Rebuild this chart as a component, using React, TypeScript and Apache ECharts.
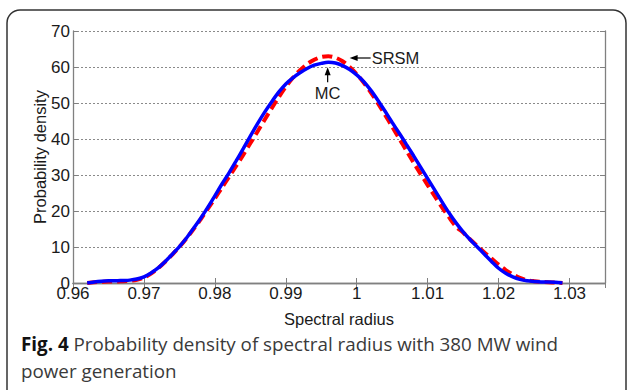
import React, { useEffect, useRef } from "react";
import * as echarts from "echarts";

const radius = [
  0.962, 0.963, 0.964, 0.965, 0.966, 0.967, 0.968, 0.969, 0.97, 0.971,
  0.972, 0.973, 0.974, 0.975, 0.976, 0.977, 0.978, 0.979, 0.98, 0.981,
  0.982, 0.983, 0.984, 0.985, 0.986, 0.987, 0.988, 0.989, 0.99, 0.991,
  0.992, 0.993, 0.994, 0.995, 0.996, 0.997, 0.998, 0.999, 1.0, 1.001,
  1.002, 1.003, 1.004, 1.005, 1.006, 1.007, 1.008, 1.009, 1.01, 1.011,
  1.012, 1.013, 1.014, 1.015, 1.016, 1.017, 1.018, 1.019, 1.02, 1.021,
  1.022, 1.023, 1.024, 1.025, 1.026, 1.027, 1.028, 1.029,
];

const mcDensity = [
  0.0, 0.3, 0.5, 0.6, 0.6, 0.7, 0.8, 1.1, 1.7, 2.8,
  4.2, 6.0, 8.0, 10.1, 12.5, 15.2, 18.0, 21.0, 24.2, 27.5,
  30.6, 33.9, 37.3, 40.8, 44.2, 47.4, 50.3, 53.0, 55.3, 57.0,
  58.4, 59.6, 60.5, 61.0, 61.3, 61.1, 60.4, 59.3, 57.8, 55.9,
  53.5, 50.7, 47.7, 44.6, 41.6, 38.5, 35.4, 32.2, 29.0, 25.8,
  22.6, 19.5, 16.7, 14.2, 12.0, 10.0, 8.0, 6.0, 4.1, 2.7,
  1.7, 1.0, 0.6, 0.4, 0.3, 0.3, 0.2, 0.0,
];

const srsmDensity = [
  0.0, 0.2, 0.3, 0.4, 0.4, 0.5, 0.6, 0.9, 1.5, 2.6,
  4.1, 5.9, 7.9, 10.0, 12.4, 15.0, 17.7, 20.6, 23.5, 26.5,
  29.5, 32.5, 35.6, 38.8, 42.0, 45.3, 48.5, 51.6, 54.5, 57.0,
  59.1, 60.8, 62.0, 62.8, 63.0, 62.6, 61.6, 60.0, 58.0, 55.6,
  52.9, 49.9, 46.7, 43.4, 40.1, 36.8, 33.5, 30.3, 27.2, 24.1,
  21.1, 18.3, 15.7, 14.0, 12.1, 10.3, 8.5, 6.8, 5.1, 3.6,
  2.4, 1.4, 0.8, 0.5, 0.3, 0.2, 0.1, 0.0,
];

const seriesNames = ["SRSM", "MC"];
// annotation arrow heads in data coordinates [radius, density]
const srsmArrowHead = [0.999, 62.5];
const mcArrowHead = [0.9959, 59.9];

const captionBold = "Fig. 4";
const captionLine1 = " Probability density of spectral radius with 380 MW wind";
const captionLine2 = "power generation";

const xAxisTitle = "Spectral radius";
const yAxisTitle = "Probability density";

const AXIS_FONT = "'Liberation Sans', Arial, sans-serif";
const AXIS_COLOR = "#808080";
const TEXT_COLOR = "#1a1a1a";

export default function App() {
  const ref = useRef<HTMLDivElement>(null);

  useEffect(() => {
    if (!ref.current) return;
    const chart = echarts.init(ref.current, null, { renderer: "svg" });

    const fmt = (v: number) => {
      if (Math.abs(v * 100 - Math.round(v * 100)) > 1e-6) return "";
      return String(parseFloat(v.toFixed(2)));
    };

    const baseGraphic: any[] = [
      {
        type: "rect",
        id: "frame",
        shape: { x: 7, y: 10, width: 619, height: 400, r: 13 },
        style: { fill: "none", stroke: "#333", lineWidth: 1.5 },
        silent: true,
      },
      {
        type: "text",
        id: "cap1",
        x: 21,
        y: 344,
        style: {
          text: "{b|" + captionBold + "}" + captionLine1,
          fontFamily: "'Open Sans', sans-serif",
          fontSize: 18.8,
          fill: "#3a3a3a",
          verticalAlign: "middle",
          rich: {
            b: {
              fontFamily: "'Open Sans', sans-serif",
              fontSize: 18.8,
              fontWeight: "bold",
              fill: "#111",
            },
          },
        },
      },
      {
        type: "text",
        id: "cap2",
        x: 21,
        y: 371,
        style: {
          text: captionLine2,
          fontFamily: "'Open Sans', sans-serif",
          fontSize: 18.8,
          fill: "#3a3a3a",
          verticalAlign: "middle",
        },
      },
    ];

    const option: any = {
      animation: false,
      backgroundColor: "#fff",
      grid: { left: 73, right: 22, top: 31, bottom: 107, containLabel: false },
      xAxis: [
        {
          type: "value",
          min: 0.96,
          max: 1.035,
          interval: 0.01,
          name: xAxisTitle,
          nameLocation: "middle",
          nameGap: 27,
          nameMoveOverlap: false,
          nameTextStyle: { fontFamily: AXIS_FONT, fontSize: 16.5, color: TEXT_COLOR },
          axisLine: { show: true, lineStyle: { color: AXIS_COLOR, width: 1.3 } },
          axisTick: { show: true, inside: true, length: 5, lineStyle: { color: AXIS_COLOR } },
          axisLabel: {
            margin: 2,
            formatter: fmt,
            fontFamily: AXIS_FONT,
            fontSize: 17,
            color: TEXT_COLOR,
          },
          splitLine: { show: false },
        },
        {
          type: "value",
          position: "top",
          min: 0.96,
          max: 1.035,
          interval: 0.01,
          axisLine: { show: true, lineStyle: { color: AXIS_COLOR, width: 1.3 } },
          axisTick: { show: true, inside: true, length: 5, lineStyle: { color: AXIS_COLOR } },
          axisLabel: { show: false },
          splitLine: { show: false },
        },
      ],
      yAxis: [
        {
          type: "value",
          min: 0,
          max: 70,
          interval: 10,
          name: yAxisTitle,
          nameLocation: "middle",
          nameGap: 25,
          nameMoveOverlap: false,
          nameTextStyle: { fontFamily: AXIS_FONT, fontSize: 16.5, color: TEXT_COLOR },
          axisLine: { show: true, lineStyle: { color: AXIS_COLOR, width: 1.3 } },
          axisTick: { show: true, inside: true, length: 5, lineStyle: { color: AXIS_COLOR } },
          axisLabel: { margin: 3, fontFamily: AXIS_FONT, fontSize: 17, color: TEXT_COLOR },
          splitLine: { show: true, lineStyle: { color: "#8a8a8a", width: 1, type: [2, 2] } },
        },
        {
          type: "value",
          position: "right",
          min: 0,
          max: 70,
          interval: 10,
          axisLine: { show: true, lineStyle: { color: AXIS_COLOR, width: 1.3 } },
          axisTick: { show: true, inside: true, length: 5, lineStyle: { color: AXIS_COLOR } },
          axisLabel: { show: false },
          splitLine: { show: false },
        },
      ],
      series: [
        {
          name: seriesNames[0],
          type: "line",
          data: radius.map((r, i) => [r, srsmDensity[i]]),
          showSymbol: false,
          smooth: 0.3,
          lineStyle: { color: "#ff0000", width: 4, type: [10, 5] },
          z: 2,
        },
        {
          name: seriesNames[1],
          type: "line",
          data: radius.map((r, i) => [r, mcDensity[i]]),
          showSymbol: false,
          smooth: 0.3,
          lineStyle: { color: "#0000ff", width: 3.5 },
          z: 3,
        },
      ],
      graphic: baseGraphic,
    };

    chart.setOption(option);

    const s = chart.convertToPixel({ gridIndex: 0 }, srsmArrowHead) as number[];
    const m = chart.convertToPixel({ gridIndex: 0 }, mcArrowHead) as number[];

    const annot: any[] = [
      {
        type: "line",
        id: "srsmLine",
        shape: { x1: s[0] + 5, y1: s[1], x2: s[0] + 21, y2: s[1] },
        style: { stroke: "#000", lineWidth: 1.2 },
        z: 10,
      },
      {
        type: "polygon",
        id: "srsmHead",
        shape: { points: [[s[0], s[1]], [s[0] + 8, s[1] - 3], [s[0] + 8, s[1] + 3]] },
        style: { fill: "#000" },
        z: 10,
      },
      {
        type: "text",
        id: "srsmText",
        x: s[0] + 22,
        y: s[1] - 0.5,
        style: {
          text: seriesNames[0],
          fontFamily: AXIS_FONT,
          fontSize: 16.5,
          fill: TEXT_COLOR,
          verticalAlign: "middle",
          align: "left",
        },
        z: 10,
      },
      {
        type: "line",
        id: "mcLine",
        shape: { x1: m[0], y1: m[1] + 5, x2: m[0], y2: m[1] + 15 },
        style: { stroke: "#000", lineWidth: 1.2 },
        z: 10,
      },
      {
        type: "polygon",
        id: "mcHead",
        shape: { points: [[m[0], m[1]], [m[0] - 3, m[1] + 8], [m[0] + 3, m[1] + 8]] },
        style: { fill: "#000" },
        z: 10,
      },
      {
        type: "text",
        id: "mcText",
        x: m[0],
        y: m[1] + 26,
        style: {
          text: seriesNames[1],
          fontFamily: AXIS_FONT,
          fontSize: 16.5,
          fill: TEXT_COLOR,
          verticalAlign: "middle",
          align: "center",
        },
        z: 10,
      },
    ];

    chart.setOption({ graphic: [...baseGraphic, ...annot] });

    return () => {
      chart.dispose();
    };
  }, []);

  return (
    <div
      ref={ref}
      style={{ position: "absolute", left: 0, top: 0, width: 627, height: 390 }}
    />
  );
}
